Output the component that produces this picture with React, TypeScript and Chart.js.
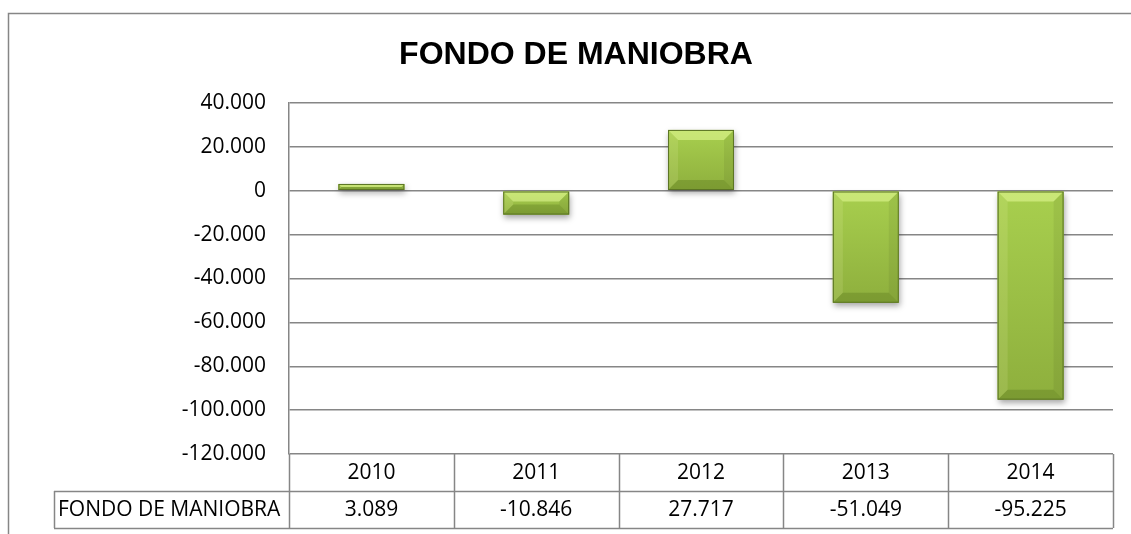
import React, { useEffect, useRef } from "react";
import { Chart, registerables } from "chart.js";

Chart.register(...registerables);

const TITLE = "FONDO DE MANIOBRA";
const SERIES_NAME = "FONDO DE MANIOBRA";
const CATEGORIES = ["2010", "2011", "2012", "2013", "2014"];
const VALUES = [3089, -10846, 27717, -51049, -95225];
const Y_MIN = -120000;
const Y_MAX = 40000;
const Y_STEP = 20000;

const FONT = "'Open Sans', 'DejaVu Sans', sans-serif";
const GRID = "#868686";

function fmt(v: number): string {
  const neg = v < 0;
  const s = Math.round(Math.abs(v)).toString();
  const parts: string[] = [];
  for (let i = s.length; i > 0; i -= 3) parts.unshift(s.slice(Math.max(0, i - 3), i));
  return (neg ? "-" : "") + parts.join(".");
}

const decorPlugin = {
  id: "decor",
  beforeDraw(chart: any) {
    const ctx = chart.ctx;
    ctx.save();
    ctx.fillStyle = "#ffffff";
    ctx.fillRect(0, 0, chart.width, chart.height);
    ctx.strokeStyle = GRID;
    ctx.lineWidth = 1.5;
    ctx.beginPath();
    ctx.moveTo(8.5, chart.height);
    ctx.lineTo(8.5, 13.5);
    ctx.lineTo(chart.width, 13.5);
    ctx.stroke();
    ctx.fillStyle = "#000";
    ctx.font = "bold 32px 'Liberation Sans', Arial, sans-serif";
    ctx.textAlign = "center";
    ctx.textBaseline = "alphabetic";
    ctx.fillText(TITLE, 576, 64);
    ctx.restore();
  },
  afterDatasetsDraw(chart: any) {
    const ctx = chart.ctx;
    const meta = chart.getDatasetMeta(0);
    meta.data.forEach((el: any) => {
      const props = el.getProps(["x", "y", "base", "width"], true);
      const l = props.x - props.width / 2;
      const r = props.x + props.width / 2;
      const t = Math.min(props.y, props.base);
      const b = Math.max(props.y, props.base);
      const h = b - t;
      const w = r - l;
      ctx.save();
      ctx.shadowColor = "rgba(0,0,0,0.35)";
      ctx.shadowBlur = 6;
      ctx.shadowOffsetX = 1;
      ctx.shadowOffsetY = 3;
      ctx.fillStyle = "#9cc148";
      ctx.fillRect(l, t, w, h);
      ctx.restore();
      ctx.save();
      const g = ctx.createLinearGradient(0, t, 0, b);
      g.addColorStop(0, "#a8cf4e");
      g.addColorStop(1, "#8eaf3d");
      ctx.fillStyle = g;
      ctx.fillRect(l, t, w, h);
      const s = Math.min(10, h / 2, w / 2);
      ctx.fillStyle = "rgba(235,255,160,0.5)";
      ctx.beginPath();
      ctx.moveTo(l, t);
      ctx.lineTo(r, t);
      ctx.lineTo(r - s, t + s);
      ctx.lineTo(l + s, t + s);
      ctx.closePath();
      ctx.fill();
      ctx.fillStyle = "rgba(255,255,200,0.12)";
      ctx.beginPath();
      ctx.moveTo(l, t);
      ctx.lineTo(l + s, t + s);
      ctx.lineTo(l + s, b - s);
      ctx.lineTo(l, b);
      ctx.closePath();
      ctx.fill();
      ctx.fillStyle = "rgba(0,0,0,0.06)";
      ctx.beginPath();
      ctx.moveTo(r, t);
      ctx.lineTo(r - s, t + s);
      ctx.lineTo(r - s, b - s);
      ctx.lineTo(r, b);
      ctx.closePath();
      ctx.fill();
      ctx.fillStyle = "rgba(40,60,0,0.18)";
      ctx.beginPath();
      ctx.moveTo(l, b);
      ctx.lineTo(r, b);
      ctx.lineTo(r - s, b - s);
      ctx.lineTo(l + s, b - s);
      ctx.closePath();
      ctx.fill();
      ctx.strokeStyle = "#5b7424";
      ctx.lineWidth = 1;
      ctx.strokeRect(l + 0.5, t + 0.5, w - 1, h - 1);
      ctx.restore();
    });
  },
  afterDraw(chart: any) {
    const ctx = chart.ctx;
    const area = chart.chartArea;
    const xs = chart.scales.x;
    const n = CATEGORIES.length;
    const colW = (area.right - area.left) / n;
    const bounds: number[] = [];
    for (let i = 0; i < n; i++) bounds.push(xs.getPixelForValue(i) - colW / 2);
    bounds.push(xs.getPixelForValue(n - 1) + colW / 2);
    const top = Math.round(area.bottom);
    const rowH = 37;
    const mid = top + rowH;
    const bot = mid + rowH;
    const labelLeft = 54;
    ctx.save();
    ctx.strokeStyle = GRID;
    ctx.lineWidth = 1.5;
    ctx.beginPath();
    bounds.forEach((bx) => {
      const x = Math.round(bx) + 0.5;
      ctx.moveTo(x, top);
      ctx.lineTo(x, bot);
    });
    ctx.moveTo(labelLeft + 0.5, mid);
    ctx.lineTo(labelLeft + 0.5, bot);
    ctx.moveTo(labelLeft, mid + 0.5);
    ctx.lineTo(bounds[n], mid + 0.5);
    ctx.moveTo(labelLeft, bot + 0.5);
    ctx.lineTo(bounds[n], bot + 0.5);
    ctx.stroke();

    ctx.fillStyle = "#000";
    ctx.font = "21px " + FONT;
    ctx.textBaseline = "middle";
    ctx.textAlign = "center";
    for (let i = 0; i < n; i++) {
      const cx = xs.getPixelForValue(i);
      ctx.fillText(CATEGORIES[i], cx, (top + mid) / 2 + 1);
      ctx.fillText(fmt(VALUES[i]), cx, (mid + bot) / 2 + 1);
    }
    ctx.textAlign = "left";
    ctx.fillText(SERIES_NAME, labelLeft + 4, (mid + bot) / 2 + 1);
    ctx.restore();
  },
};

export default function App() {
  const ref = useRef<HTMLCanvasElement | null>(null);
  useEffect(() => {
    if (!ref.current) return;
    const chart = new Chart(ref.current, {
      type: "bar",
      data: {
        labels: CATEGORIES,
        datasets: [
          {
            label: SERIES_NAME,
            data: VALUES,
            backgroundColor: "rgba(0,0,0,0)",
            borderWidth: 0,
            categoryPercentage: 1,
            barPercentage: 0.4,
          },
        ],
      },
      options: {
        responsive: false,
        animation: false,
        devicePixelRatio: 1,
        layout: { padding: { left: 0, top: 103, right: 18, bottom: 80 } },
        plugins: {
          legend: { display: false },
          title: { display: false },
          tooltip: { enabled: false },
        },
        scales: {
          x: { display: false },
          y: {
            min: Y_MIN,
            max: Y_MAX,
            afterFit: (scale: any) => {
              scale.width = 289;
            },
            ticks: {
              stepSize: Y_STEP,
              padding: 23,
              color: "#000",
              font: { family: FONT, size: 21 },
              callback: (v: any) => fmt(Number(v)),
            },
            grid: {
              color: GRID,
              lineWidth: 1.5,
              drawTicks: false,
            },
            border: { display: true, color: GRID, width: 1.5 },
          },
        },
      },
      plugins: [decorPlugin],
    });
    return () => chart.destroy();
  }, []);
  return (
    <div style={{ position: "fixed", left: 0, top: 0, width: 1131, height: 534, background: "#fff" }}>
      <canvas ref={ref} width={1131} height={534} style={{ display: "block" }} />
    </div>
  );
}
